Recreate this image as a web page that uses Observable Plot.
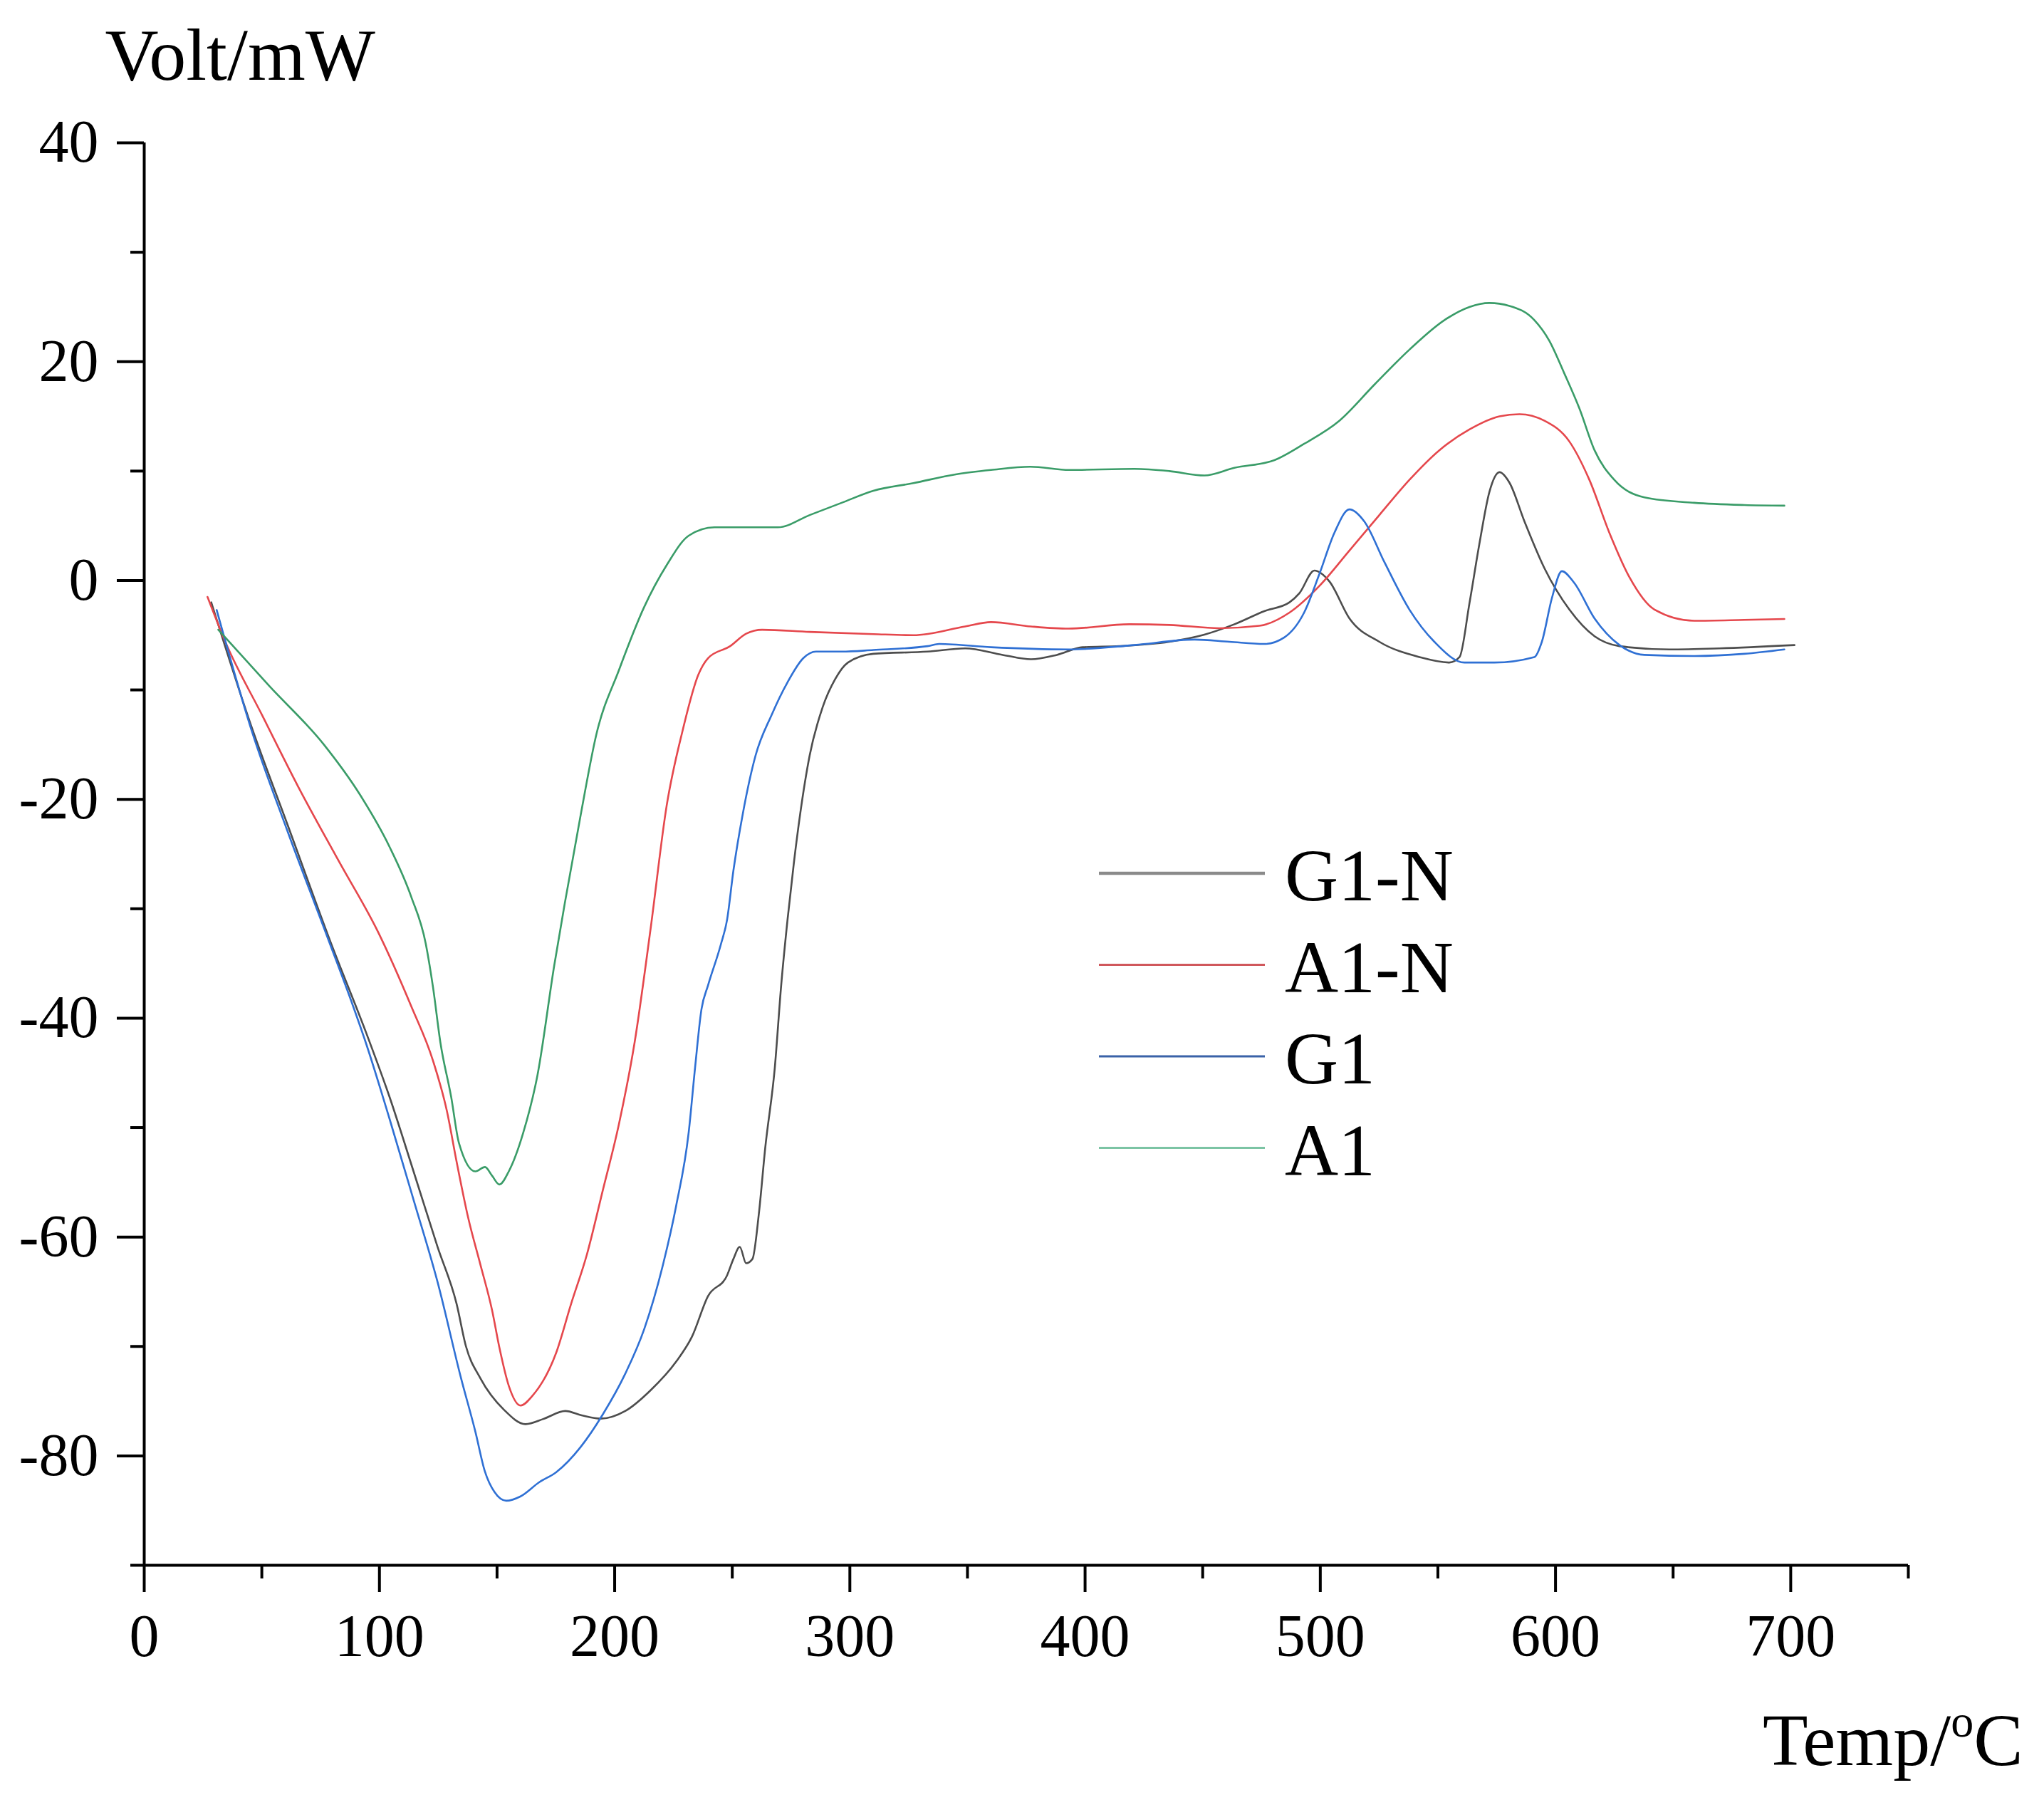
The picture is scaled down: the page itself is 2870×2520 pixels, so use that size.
<!DOCTYPE html>
<html>
<head>
<meta charset="utf-8">
<script src="https://cdn.jsdelivr.net/npm/d3@7"></script>
<script src="https://cdn.jsdelivr.net/npm/@observablehq/plot@0.6"></script>
<style>
  html, body { margin: 0; padding: 0; background: #fff; }
  #wrap { position: relative; width: 2870px; height: 2520px; }
  #wrap svg { position: absolute; left: 0; top: 0; }
</style>
</head>
<body>
<div id="wrap"></div>
<script>
// ---- data ----
const seriesNames = ["G1-N", "A1-N", "G1", "A1"];
const seriesColors = ["#4d4d4d", "#e5474c", "#2f70d4", "#3a9c68"];
const legendColors = ["#8a8a8a", "#d0585c", "#3a62a8", "#7cc4a4"];

const g1nX = [28.5,45.5,60.9,79.5,94.3,104.3,114.5,124.7,132.8,136.8,142.9,153,162.1,170,179,186,194,204.5,215.3,226.1,232.9,239.7,247.8,250.5,253.2,255.9,258.6,261.3,264,268.1,270.8,273.5,276.2,278.9,282.9,288.4,293.8,299.2,310,333,349,365,377,388,399,414.6,435.8,450.7,463.5,476.2,486.9,491.1,497.5,503.9,512.4,525.1,542.2,554.9,559.2,563.4,567.6,571.9,576.2,580.4,586.8,595.3,605.9,616.6,627.2,648.4,669.7,701.6];
const g1nY = [-2.0,-13.3,-22.3,-33.2,-41.3,-47.2,-54,-60.9,-66.1,-70,-72.9,-75.8,-77.1,-76.6,-75.9,-76.3,-76.6,-75.9,-74,-71.4,-69.1,-65.4,-63.5,-62,-60.9,-62.4,-62,-57.9,-51.9,-44.5,-37,-31,-25.8,-21.3,-16,-11.6,-9,-7.5,-6.7,-6.5,-6.2,-6.8,-7.2,-6.8,-6.1,-6.0,-5.6,-4.95,-4,-2.8,-2,-1.17,0.91,-0.09,-3.47,-5.6,-7,-7.5,-7,-2.1,3.3,8.1,9.9,8.95,5.4,1.12,-2.66,-5.1,-6,-6.3,-6.2,-5.9];

const a1nX = [26.9,34.6,50.1,65.6,82.6,99.6,113.5,122.8,128.7,132.8,137.8,142.9,147.9,150.9,155,160,165.1,175.1,181.5,188.2,195,201.8,208.5,215.3,222.1,228.8,235.6,239.7,249.1,255.9,262.7,282.9,310,327,349,360,377,393,418.8,435.8,457.1,474.1,486.9,499.6,512.4,525.1,537.9,550.6,563.4,576.2,584.7,595.3,605.9,614.4,622.9,631.4,642.1,659,680.3,697.3];
const a1nY = [-1.5,-5.67,-12.3,-18.9,-25.6,-32.2,-38.9,-43.9,-48.5,-53.1,-58.3,-62.5,-66.7,-70,-73.6,-75.4,-74.5,-70.6,-66.1,-61.6,-55.7,-49.7,-42.2,-31.8,-20.6,-13.8,-8.6,-7.1,-6,-4.86,-4.5,-4.7,-4.9,-5,-4.2,-3.8,-4.2,-4.4,-4,-4.06,-4.36,-4.14,-2.93,-0.5,2.74,5.98,9.2,11.9,13.8,15,15.2,14.6,12.7,9.2,4.36,0.31,-2.66,-3.68,-3.6,-3.52];

const g1X = [30.8,45.5,60.9,77.9,88.8,94.3,104.3,114.5,124.7,134.7,140.8,144.8,148.9,153.9,160,168,175.1,185.5,195,204.5,212.6,220.7,226.1,231.5,234.2,236.9,239.7,245.1,247.8,250.5,254.5,259.9,266.7,273.5,280.2,285.6,296.5,310,333,338,360,393.3,421,446.5,461.4,476.2,484.7,493.2,499.6,506,512.4,518.7,527.3,537.9,548.5,561.3,574,591,594.2,598.5,602.7,608,616.6,627.2,637.8,659,680.3,697.3];
const g1Y = [-2.7,-13.6,-22.9,-32.6,-38.9,-42.3,-49.2,-56.6,-64.1,-72.9,-77.8,-81.4,-83.3,-84.1,-83.7,-82.4,-81.5,-79.2,-76.2,-72.5,-68.4,-62.4,-57.2,-50.4,-44.5,-39.2,-37,-33.3,-31,-26.5,-21.3,-16,-12.3,-9.3,-7.1,-6.5,-6.5,-6.35,-6,-5.8,-6.1,-6.3,-5.9,-5.4,-5.6,-5.8,-5.2,-2.9,0.58,4.36,6.5,5.4,1.66,-2.66,-5.6,-7.5,-7.5,-7,-5.6,-1.58,0.85,-0.23,-3.47,-5.9,-6.8,-6.9,-6.7,-6.3];

const a1X = [31.5,53.2,76.4,91.8,104.2,113.5,119.7,122.8,125.9,130.5,133.8,140.8,144.9,147.9,151,155,161.1,167.2,174.3,178.8,185.5,192.3,201.8,212.6,222.1,231.5,242.4,255.9,269.4,282.9,296.5,310,327,345,360,376.7,393.3,421,435.8,450.7,463.5,480.5,493.2,508.1,523,537.9,552.8,563.4,571.9,580.4,591,597.4,603.8,610.2,616.6,625,637.8,659,680.3,697.3];
const a1Y = [-4.5,-9.65,-15,-19.6,-24.3,-28.9,-33.2,-37.2,-42.2,-47.2,-51.4,-54,-53.6,-54.4,-55.2,-54,-50.5,-45.2,-35.2,-29.5,-21.5,-14,-8.2,-2.4,1.4,4.1,4.86,4.86,4.86,5.98,7.1,8.2,8.9,9.7,10.1,10.4,10.1,10.2,10,9.6,10.3,11,12.5,14.6,17.9,21.1,23.8,25,25.36,25.1,23.8,21.9,18.9,15.7,11.9,9.2,7.6,7.1,6.9,6.84];

const xMajor = [0,100,200,300,400,500,600,700];
const xMinor = [50,150,250,350,450,550,650,750];
const yMajor = [40,20,0,-20,-40,-60,-80];
const yMinor = [30,10,-10,-30,-50,-70,-90];

const yLabel = "Volt/mW";
const xLabel = "Temp/°C";

// ---- build table ----
const allX = [g1nX, a1nX, g1X, a1X];
const allY = [g1nY, a1nY, g1Y, a1Y];
const rows = [];
seriesNames.forEach((name, i) => {
  allX[i].forEach((x, j) => rows.push({series: name, x, y: allY[i][j]}));
});

const font = "'Liberation Serif', 'Times New Roman', serif";

const chart = Plot.plot({
  width: 2870,
  height: 2520,
  marginLeft: 202,
  marginRight: 191,
  marginTop: 200,
  marginBottom: 323,
  x: {domain: [0, 750]},
  y: {domain: [-90, 40]},
  color: {domain: seriesNames, range: seriesColors},
  style: {fontFamily: font, background: "white", color: "black"},
  marks: [
    Plot.axisY(yMajor, {tickSize: 38, tickPadding: 26, fontSize: 84, strokeWidth: 4, tickFormat: d => String(d), label: null}),
    Plot.axisY(yMinor, {tickSize: 19, strokeWidth: 4, tickFormat: () => "", label: null}),
    Plot.axisX(xMajor, {tickSize: 38, tickPadding: 30, fontSize: 84, strokeWidth: 4, tickFormat: d => String(d), label: null}),
    Plot.axisX(xMinor, {tickSize: 19, strokeWidth: 4, tickFormat: () => "", label: null}),
    Plot.ruleX([0], {strokeWidth: 4}),
    Plot.ruleY([-90], {strokeWidth: 4}),
    Plot.line(rows, {x: "x", y: "y", z: "series", stroke: "series", strokeWidth: 2.6, curve: "monotone-x"}),
    Plot.text([yLabel], {frameAnchor: "top-left", dx: -55, dy: -89, lineAnchor: "bottom", textAnchor: "start", fontSize: 104, fill: "black"}),
    Plot.text([xLabel], {frameAnchor: "bottom-right", dx: 161, dy: 280, lineAnchor: "bottom", textAnchor: "end", fontSize: 104, fill: "black"})
  ]
});

document.getElementById("wrap").appendChild(chart);

// superscript "o" in the x label
d3.select(chart).selectAll("text").each(function() {
  if (this.textContent === xLabel) {
    const t = d3.select(this);
    t.text(null);
    t.append("tspan").text("Temp/");
    t.append("tspan").attr("font-size", 64).attr("dy", -40).text("o");
    t.append("tspan").attr("font-size", 104).attr("dy", 40).text("C");
  }
});

// legend overlay
const leg = d3.select("#wrap").append("svg")
  .attr("width", 2870).attr("height", 2520)
  .style("pointer-events", "none")
  .style("font-family", font);
seriesNames.forEach((name, i) => {
  const cy = 1226 + i * 128.5;
  leg.append("line")
    .attr("x1", 1543).attr("x2", 1776).attr("y1", cy).attr("y2", cy)
    .attr("stroke", legendColors[i]).attr("stroke-width", i === 0 ? 4.5 : 3);
  leg.append("text")
    .attr("x", 1804).attr("y", cy + 38)
    .attr("font-size", 104).attr("fill", "black")
    .text(name);
});
</script>
</body>
</html>
